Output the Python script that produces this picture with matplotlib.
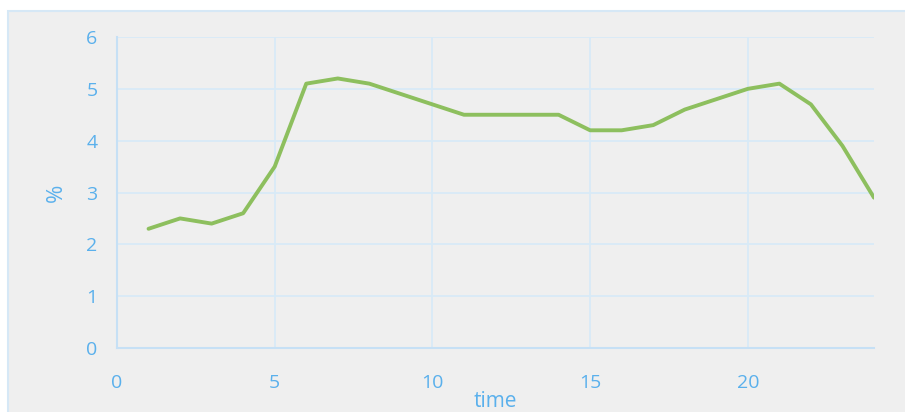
import matplotlib
matplotlib.use("Agg")
import matplotlib.pyplot as plt
from matplotlib.patches import Rectangle

hours = [1, 2, 3, 4, 5, 6, 7, 8, 9, 10, 11, 12, 13, 14, 15, 16, 17, 18, 19, 20, 21, 22, 23, 24]
values = [2.3, 2.5, 2.4, 2.6, 3.5, 5.1, 5.2, 5.1, 4.9, 4.7, 4.5, 4.5, 4.5, 4.5, 4.2, 4.2, 4.3, 4.6, 4.8, 5.0, 5.1, 4.7, 3.9, 2.9]
x_ticks = [0, 5, 10, 15, 20]
y_ticks = [0, 1, 2, 3, 4, 5, 6]

plt.rcParams['font.family'] = ['Open Sans', 'DejaVu Sans']
text_color = '#5ab0ec'
grid_color = '#d8eaf7'
bg = '#efefef'

fig = plt.figure(figsize=(9.05, 4.12), dpi=100, facecolor='white')
panel = Rectangle((8 / 905, -0.1), 1.0, 1 - 11 / 412 + 0.1, transform=fig.transFigure,
                  facecolor=bg, edgecolor='#d6e8f6', linewidth=1.5, zorder=-10)
fig.patches.append(panel)

ax = fig.add_axes([117 / 905, 1 - 348 / 412, (874 - 117) / 905, (348 - 37) / 412])
ax.set_zorder(1)
ax.set_facecolor('none')
ax.plot(hours, values, color='#8dbf5e', linewidth=2.8, solid_capstyle='round', solid_joinstyle='round', zorder=3)

ax.set_xlim(0, 24)
ax.set_ylim(0, 6)
ax.set_xticks(x_ticks)
ax.set_yticks(y_ticks)
ax.grid(True, color=grid_color, linewidth=1.3)
ax.set_axisbelow(True)
for s in ['top', 'right']:
    ax.spines[s].set_visible(False)
for s in ['left', 'bottom']:
    ax.spines[s].set_color('#c6e0f5')
    ax.spines[s].set_linewidth(1.5)
ax.tick_params(axis='both', length=0, colors=text_color, labelsize=14)
ax.tick_params(axis='x', pad=19)
ax.tick_params(axis='y', pad=14)
ax.set_xlabel('time', color=text_color, fontsize=15, labelpad=-1)
ax.set_ylabel('%', color=text_color, fontsize=16, labelpad=14)

fig.savefig('out.png', dpi=100, facecolor='white')
